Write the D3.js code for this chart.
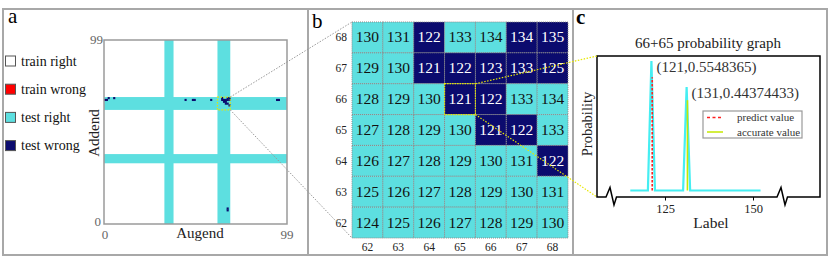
<!DOCTYPE html>
<html><head><meta charset="utf-8">
<script src="https://cdn.jsdelivr.net/npm/d3@7"></script>
<style>
body{margin:0;background:#fff;}
svg{display:block;}
svg text{font-family:"Liberation Serif","DejaVu Serif",serif;}
</style></head><body>
<svg id="chart" width="831" height="262" font-family="Liberation Serif, DejaVu Serif, serif"></svg>
<script>
// ---------- Panel a data ----------
const legendLabels = ["train right", "train wrong", "test right", "test wrong"];
const legendColors = ["#ffffff", "#ff0000", "#5ddfe0", "#0b0b6e"];
const testRanges = [[33, 37], [62, 68]];
const wrongPointsA = [[0,67],[1,67],[2,68],[5,68],[44,67],[48,67],[49,67],[58,67],[94,67],[95,67],[67,7],[67,8]];
const axisTicksA = [0, 99];

// ---------- Panel b data ----------
const zoomAugends = [62, 63, 64, 65, 66, 67, 68];
const zoomAddends = [68, 67, 66, 65, 64, 63, 62];
const zoomPredictions = [
  [130, 131, 122, 133, 134, 134, 135],
  [129, 130, 121, 122, 123, 133, 125],
  [128, 129, 130, 121, 122, 133, 134],
  [127, 128, 129, 130, 121, 122, 133],
  [126, 127, 128, 129, 130, 131, 122],
  [125, 126, 127, 128, 129, 130, 131],
  [124, 125, 126, 127, 128, 129, 130]
];
const focusCell = [65, 66];

// ---------- Panel c data ----------
const probLabels = [115,116,117,118,119,120,121,122,123,124,125,126,127,128,129,130,131,132,133,134,135,136,137,138,139,140,141,142,143,144,145,146,147,148,149,150,151,152];
const probValues = [0,0,0,0,0,0,0.5548365,0,0,0,0,0,0,0,0,0,0.44374433,0,0,0,0,0,0,0,0,0,0,0,0,0,0,0,0,0,0,0,0,0];
const peakNotes = ["(121,0.5548365)", "(131,0.44374433)"];
const peakLabels = [121, 131];
const predictMarker = [121, 0.485];
const accurateMarker = [131, 0.387];
const ticksC = [125, 150];
const legendC = ["predict value", "accurate value"];

const FONT = "Liberation Serif, DejaVu Serif, serif";
const CYAN = legendColors[2], NAVY = legendColors[3];
const svg = d3.select("#chart");

// ---------- frame ----------
svg.append("rect").attr("x", 3).attr("y", 9).attr("width", 824).attr("height", 246)
  .attr("fill", "none").attr("stroke", "#a8a8a8").attr("stroke-width", 2);
[308, 573].forEach(x => svg.append("line").attr("x1", x).attr("x2", x).attr("y1", 9).attr("y2", 255)
  .attr("stroke", "#a8a8a8").attr("stroke-width", 2));

// panel letters
svg.append("text").attr("x", 8).attr("y", 23).attr("font-size", 21).text("a");
svg.append("text").attr("x", 312).attr("y", 28).attr("font-size", 21).text("b");
svg.append("text").attr("x", 576).attr("y", 24).attr("font-size", 21).attr("font-weight", "bold").text("c");

// ---------- Panel a ----------
const xA = d3.scaleLinear().domain([0, 100]).range([104, 287]);
const yA = d3.scaleLinear().domain([0, 100]).range([224, 40]);
const gA = svg.append("g");
gA.append("rect").attr("x", xA(0)).attr("y", yA(100)).attr("width", xA(100) - xA(0)).attr("height", yA(0) - yA(100)).attr("fill", "#fff");
testRanges.forEach(([s, e]) => {
  gA.append("rect").attr("x", xA(s)).attr("width", xA(e + 1) - xA(s)).attr("y", yA(100)).attr("height", yA(0) - yA(100)).attr("fill", CYAN);
  gA.append("rect").attr("y", yA(e + 1)).attr("height", yA(s) - yA(e + 1)).attr("x", xA(0)).attr("width", xA(100) - xA(0)).attr("fill", CYAN);
});
const wrongAll = wrongPointsA.slice();
zoomAddends.forEach((ad, r) => zoomAugends.forEach((au, c) => {
  if (zoomPredictions[r][c] !== au + ad) wrongAll.push([au, ad]);
}));
gA.selectAll("rect.w").data(wrongAll).join("rect").attr("class", "w")
  .attr("x", d => xA(d[0])).attr("y", d => yA(d[1] + 1))
  .attr("width", xA(1) - xA(0) + 0.3).attr("height", yA(0) - yA(1) + 0.3).attr("fill", NAVY);
gA.append("rect").attr("x", xA(0)).attr("y", yA(100)).attr("width", xA(100) - xA(0)).attr("height", yA(0) - yA(100))
  .attr("fill", "none").attr("stroke", "#9a9a9a").attr("stroke-width", 1.5);
gA.append("rect").attr("x", xA(62)).attr("y", yA(69)).attr("width", xA(69) - xA(62)).attr("height", yA(62) - yA(69))
  .attr("fill", "none").attr("stroke", "#e8e800").attr("stroke-width", 1.2).attr("stroke-dasharray", "1.5,1.5");
gA.append("text").attr("x", xA(0) - 1).attr("y", yA(100) + 4).attr("text-anchor", "end").attr("font-size", 13).attr("fill", "#666").text(axisTicksA[1]);
gA.append("text").attr("x", xA(0) - 3).attr("y", yA(0) + 2).attr("text-anchor", "end").attr("font-size", 13).attr("fill", "#666").text(axisTicksA[0]);
gA.append("text").attr("x", xA(0) + 1).attr("y", 239).attr("text-anchor", "middle").attr("font-size", 13).attr("fill", "#666").text(axisTicksA[0]);
gA.append("text").attr("x", xA(100)).attr("y", 239).attr("text-anchor", "middle").attr("font-size", 13).attr("fill", "#666").text(axisTicksA[1]);
gA.append("text").attr("x", 200).attr("y", 238).attr("text-anchor", "middle").attr("font-size", 15).attr("fill", "#222").text("Augend");
gA.append("text").attr("transform", "translate(99,133) rotate(-90)").attr("text-anchor", "middle").attr("font-size", 15).attr("fill", "#222").text("Addend");
const lg = gA.selectAll("g.lg").data(legendLabels).join("g").attr("class", "lg")
  .attr("transform", (d, i) => `translate(5,${61 + i * 28.2})`);
lg.append("rect").attr("x", 0.5).attr("y", -5).attr("width", 10).attr("height", 10)
  .attr("fill", (d, i) => legendColors[i]).attr("stroke", "#555").attr("stroke-width", 1);
lg.append("text").attr("x", 16).attr("y", 4.5).attr("font-size", 14).attr("fill", "#111").text(d => d);

// ---------- Panel b ----------
const xB = d3.scaleBand().domain(zoomAugends).range([352, 568]);
const yB = d3.scaleBand().domain(zoomAddends).range([22, 238]);
const cells = [];
zoomAddends.forEach((ad, r) => zoomAugends.forEach((au, c) => cells.push({au, ad, v: zoomPredictions[r][c], ok: zoomPredictions[r][c] === au + ad})));
const gB = svg.append("g");
const cg = gB.selectAll("g.cell").data(cells).join("g").attr("class", "cell");
cg.append("rect").attr("x", d => xB(d.au)).attr("y", d => yB(d.ad)).attr("width", xB.bandwidth()).attr("height", yB.bandwidth())
  .attr("fill", d => d.ok ? CYAN : NAVY).attr("stroke", "#8a8a8a").attr("stroke-width", 1).attr("stroke-dasharray", "1,1");
cg.append("text").attr("x", d => xB(d.au) + xB.bandwidth() / 2).attr("y", d => yB(d.ad) + yB.bandwidth() / 2 + 5)
  .attr("text-anchor", "middle").attr("font-size", 15.5).attr("fill", d => d.ok ? "#111" : "#fff").text(d => d.v);
gB.selectAll("text.rl").data(zoomAddends).join("text").attr("class", "rl")
  .attr("x", 347).attr("y", d => yB(d) + yB.bandwidth() / 2 + 4).attr("text-anchor", "end").attr("font-size", 11.5).attr("fill", "#222").text(d => d);
gB.selectAll("text.cl").data(zoomAugends).join("text").attr("class", "cl")
  .attr("x", d => xB(d) + xB.bandwidth() / 2).attr("y", 251).attr("text-anchor", "middle").attr("font-size", 11.5).attr("fill", "#222").text(d => d);
gB.append("rect").attr("x", xB(focusCell[0])).attr("y", yB(focusCell[1])).attr("width", xB.bandwidth()).attr("height", yB.bandwidth())
  .attr("fill", "none").attr("stroke", "#e8e800").attr("stroke-width", 1.2).attr("stroke-dasharray", "1.5,1");

// ---------- Panel c ----------
const xC = d3.scaleLinear().domain([125, 150]).range([665.5, 753.5]);
const yC = d3.scaleLinear().domain([0, 0.5548365]).range([190.5, 61]);
const gC = svg.append("g");
gC.append("text").attr("x", 708).attr("y", 48).attr("text-anchor", "middle").attr("font-size", 15).attr("fill", "#222").text("66+65 probability graph");
gC.append("path").attr("fill", "none").attr("stroke", "#000").attr("stroke-width", 1.5)
  .attr("d", "M597,197 L606,197 L610,187.5 L614,205 L616.5,197 L777,197 L781,187.5 L785,205 L787.5,197 L820,197 L820,56 L597,56 Z");
gC.selectAll("line.tk").data(ticksC).join("line").attr("class", "tk")
  .attr("x1", d => xC(d)).attr("x2", d => xC(d)).attr("y1", 197).attr("y2", 200.5).attr("stroke", "#000").attr("stroke-width", 1);
gC.selectAll("text.tk").data(ticksC).join("text").attr("class", "tk")
  .attr("x", d => xC(d)).attr("y", 213).attr("text-anchor", "middle").attr("font-size", 12.5).attr("fill", "#222").text(d => d);
gC.append("text").attr("x", 711).attr("y", 228).attr("text-anchor", "middle").attr("font-size", 15.5).attr("fill", "#222").text("Label");
gC.append("text").attr("transform", "translate(592,124) rotate(-90)").attr("text-anchor", "middle").attr("font-size", 14.5).attr("fill", "#222").text("Probability");
gC.append("path").datum(probLabels.map((l, i) => [l, probValues[i]]))
  .attr("fill", "none").attr("stroke", "#45eef2").attr("stroke-width", 2.2).attr("stroke-linejoin", "miter")
  .attr("d", d3.line().x(d => xC(d[0])).y(d => yC(d[1])));
gC.append("line").attr("x1", xC(predictMarker[0]) + 0.8).attr("x2", xC(predictMarker[0]) + 0.8).attr("y1", yC(0)).attr("y2", yC(predictMarker[1]))
  .attr("stroke", "#ff2020").attr("stroke-width", 1.6).attr("stroke-dasharray", "2.5,1.5");
gC.append("line").attr("x1", xC(accurateMarker[0]) + 0.8).attr("x2", xC(accurateMarker[0]) + 0.8).attr("y1", yC(0)).attr("y2", yC(accurateMarker[1]))
  .attr("stroke", "#c4e800").attr("stroke-width", 1.6);
gC.selectAll("text.pk").data(peakLabels).join("text").attr("class", "pk")
  .attr("x", d => xC(d) + 5).attr("y", (d, i) => yC(probValues[probLabels.indexOf(d)]) + 11)
  .attr("font-size", 15).attr("fill", "#333").text((d, i) => peakNotes[i]);
gC.append("rect").attr("x", 703).attr("y", 111).attr("width", 99).attr("height", 27).attr("fill", "#fff").attr("stroke", "#999").attr("stroke-width", 1.2);
gC.append("line").attr("x1", 707).attr("x2", 723).attr("y1", 117.5).attr("y2", 117.5).attr("stroke", "#ff2020").attr("stroke-width", 1.5).attr("stroke-dasharray", "3,2.5");
gC.append("line").attr("x1", 707).attr("x2", 723).attr("y1", 132).attr("y2", 132).attr("stroke", "#c4e800").attr("stroke-width", 1.5);
gC.selectAll("text.lc").data(legendC).join("text").attr("class", "lc")
  .attr("x", 737).attr("y", (d, i) => 121 + i * 14.5).attr("font-size", 11).attr("fill", "#333").text(d => d);

// ---------- connectors ----------
const gl = svg.append("g").attr("fill", "none").attr("stroke-width", 1);
gl.append("line").attr("x1", xA(69)).attr("y1", yA(69)).attr("x2", xB(62)).attr("y2", 22).attr("stroke", "#999").attr("stroke-dasharray", "1.5,1.5");
gl.append("line").attr("x1", xA(69)).attr("y1", yA(62)).attr("x2", xB(62)).attr("y2", 238).attr("stroke", "#999").attr("stroke-dasharray", "1.5,1.5");
gl.append("line").attr("x1", xB(focusCell[0]) + xB.bandwidth()).attr("y1", yB(focusCell[1])).attr("x2", 597).attr("y2", 56).attr("stroke", "#e8e800").attr("stroke-width", 1.2).attr("stroke-dasharray", "1.5,1.5");
gl.append("line").attr("x1", xB(focusCell[0]) + xB.bandwidth()).attr("y1", yB(focusCell[1]) + yB.bandwidth()).attr("x2", 597).attr("y2", 197).attr("stroke", "#e8e800").attr("stroke-width", 1.2).attr("stroke-dasharray", "1.5,1.5");

svg.selectAll("text").attr("font-family", FONT);
</script>
</body></html>
